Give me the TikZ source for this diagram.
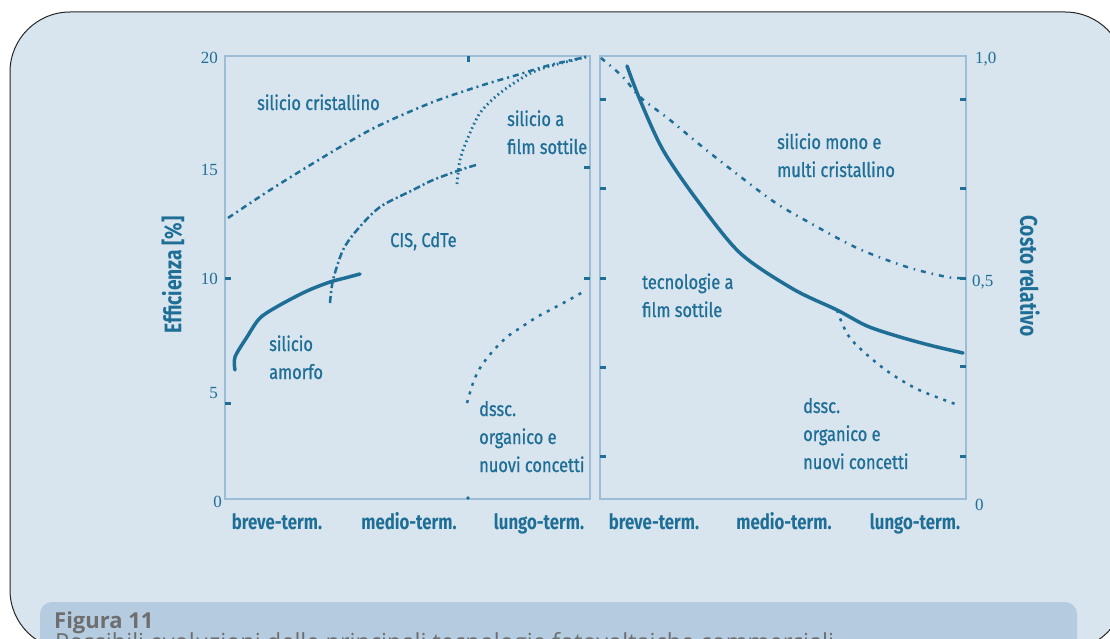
\documentclass[tikz,border=0pt]{standalone}
\usepackage{fontspec}
\setmainfont{Liberation Serif}
\newfontfamily\condfont[FakeStretch=0.82,FakeBold=0.8]{Fira Sans}
\newfontfamily\condbold[FakeStretch=0.8]{Fira Sans Bold}
\newfontfamily\capfont{Open Sans}
\definecolor{panelbg}{HTML}{D8E4EE}
\definecolor{bandbg}{HTML}{B5CCE0}
\definecolor{curveblue}{HTML}{1E6E96}
\definecolor{frameblue}{HTML}{9DBCD6}
\definecolor{capgrey}{HTML}{6E6E6E}
\newcommand{\labellines}[1]{\begin{tabular}[t]{@{}l@{}}#1\end{tabular}}
\tikzset{
plotframe/.style={draw=frameblue, line width=1.2pt},
tickmark/.style={draw=curveblue, line width=3pt},
numlabel/.style={text=curveblue, inner sep=0pt, font=\fontsize{17}{17}\selectfont},
curvelabel/.style={text=curveblue, inner sep=0pt, anchor=base west, font=\condfont\fontsize{20}{28}\selectfont},
axislabel/.style={text=curveblue, inner sep=0pt, anchor=base, font=\condbold\fontsize{21}{21}\selectfont},
axistitle/.style={text=curveblue, inner sep=0pt, font=\condbold\fontsize{24}{24}\selectfont},
solidcurve/.style={draw=curveblue, line width=3.5pt, line cap=round},
dashcurve/.style={draw=curveblue, line width=2.5pt},
}

\begin{document}
\begin{tikzpicture}[x=1pt, y=-1pt]
\useasboundingbox (0,0) rectangle (1110,639);
\clip (0,0) rectangle (1110,639);
\fill[white] (0,0) rectangle (1110,639);
\draw[fill=panelbg, draw=black!85, line width=1pt, rounded corners=60pt] (10,12) rectangle (1125,650);
\fill[bandbg, rounded corners=12pt] (40,602) rectangle (1077,700);

% caption
\node[anchor=base west, inner sep=0pt, text=capgrey, font=\capfont\bfseries\fontsize{22}{22}\selectfont] at (54,628) (capnum) {Figura 11};
\node[anchor=base west, inner sep=0pt, text=capgrey, font=\capfont\fontsize{23.5}{23.5}\selectfont] at (55,650) (captext) {Possibili evoluzioni delle principali tecnologie fotovoltaiche commerciali};

% left plot: efficienza
\draw[plotframe] (225,56) rectangle (590,499);
\draw[tickmark] (225,278) -- (231,278);
\draw[tickmark] (225,403) -- (231,403);
\draw[tickmark] (468,56) -- (468,62);
\draw[tickmark] (584,168) -- (590,168);
\draw[tickmark] (584,278) -- (590,278);
\fill[curveblue] (468,498) circle (1.8);
\node[numlabel, anchor=east] at (218,58) (e20) {20};
\node[numlabel, anchor=east] at (218,170) (e15) {15};
\node[numlabel, anchor=east] at (218,279) (e10) {10};
\node[numlabel, anchor=east] at (218,393) (e5) {5};
\node[numlabel, anchor=east] at (222,502) (e0) {0};
\node[axistitle, rotate=90] at (173,275) (efftitle) {Efficienza [\%]};

\draw[dashcurve, dash pattern=on 6pt off 4pt on 2pt off 4pt] plot[smooth] coordinates {(228,218) (267,192) (307,167) (347,143) (380,125) (433,102) (483,85) (517,75) (550,65) (586,57)};
\draw[dashcurve, dash pattern=on 7pt off 3pt on 2pt off 3pt] plot[smooth] coordinates {(330,303) (333,280) (343,250) (357,230) (380,207) (413,190) (433,180) (460,170) (476,165)};
\draw[dashcurve, line width=2.8pt, dash pattern=on 1.6pt off 3.2pt] plot[smooth] coordinates {(457,184) (460,160) (467,140) (480,113) (500,93) (527,75) (547,67) (586,57)};
\draw[dashcurve, dash pattern=on 3pt off 6pt] plot[smooth] coordinates {(467,403) (473,383) (480,368) (492,352) (507,337) (520,328) (537,317) (550,310) (567,301) (583,292)};
\draw[solidcurve] plot[smooth] coordinates {(235,370) (235,357) (247,337) (260,318) (280,305) (307,291) (330,282) (345,278) (360,274)};

\node[curvelabel] at (257,110) (sicrist) {silicio cristallino};
\node[curvelabel] at (390,247) (cis) {CIS, CdTe};
\node[curvelabel] at (507,126) (sifilm) {\labellines{silicio a\\film sottile}};
\node[curvelabel] at (269,351) (siamorfo) {\labellines{silicio\\amorfo}};
\node[curvelabel] at (479,416) (dsscleft) {\labellines{dssc.\\organico e\\nuovi concetti}};

\node[axislabel] at (277,529) (lbreve) {breve-term.};
\node[axislabel] at (409,529) (lmedio) {medio-term.};
\node[axislabel] at (539,529) (llungo) {lungo-term.};

% right plot: costo relativo
\draw[plotframe] (600,56) rectangle (966,499);
\draw[tickmark] (600,100) -- (606,100);
\draw[tickmark] (600,189) -- (606,189);
\draw[tickmark] (600,278) -- (606,278);
\draw[tickmark] (600,367) -- (606,367);
\draw[tickmark] (600,456) -- (606,456);
\draw[tickmark] (960,100) -- (966,100);
\draw[tickmark] (960,189) -- (966,189);
\draw[tickmark] (960,278) -- (966,278);
\draw[tickmark] (960,366) -- (966,366);
\draw[tickmark] (960,456) -- (966,456);
\node[numlabel, anchor=west] at (975,59) (c10) {1,0};
\node[numlabel, anchor=west] at (972,282) (c05) {0,5};
\node[numlabel, anchor=west] at (975,505) (c0) {0};
\node[axistitle, rotate=-90] at (1030,276) (costotitle) {Costo relativo};

\draw[dashcurve, dash pattern=on 5pt off 6pt on 1.5pt off 6pt] plot[smooth] coordinates {(601,58) (623,77) (640,97) (670,120) (710,153) (770,199) (803,219) (857,248) (907,267) (947,277) (962,278)};
\draw[solidcurve] plot[smooth] coordinates {(627,66) (640,100) (663,150) (697,200) (740,253) (793,289) (837,310) (867,326) (900,337) (933,346) (963,353)};
\draw[dashcurve, dash pattern=on 3pt off 6pt] plot[smooth] coordinates {(837,310) (850,338) (883,368) (917,389) (958,405)};

\node[curvelabel] at (777,149) (simono) {\labellines{silicio mono e\\multi cristallino}};
\node[curvelabel] at (642,289) (tecfilm) {\labellines{tecnologie a\\film sottile}};
\node[curvelabel] at (803,413) (dsscright) {\labellines{dssc.\\organico e\\nuovi concetti}};

\node[axislabel] at (654,529) (rbreve) {breve-term.};
\node[axislabel] at (784,529) (rmedio) {medio-term.};
\node[axislabel] at (915,529) (rlungo) {lungo-term.};
\end{tikzpicture}
\end{document}
